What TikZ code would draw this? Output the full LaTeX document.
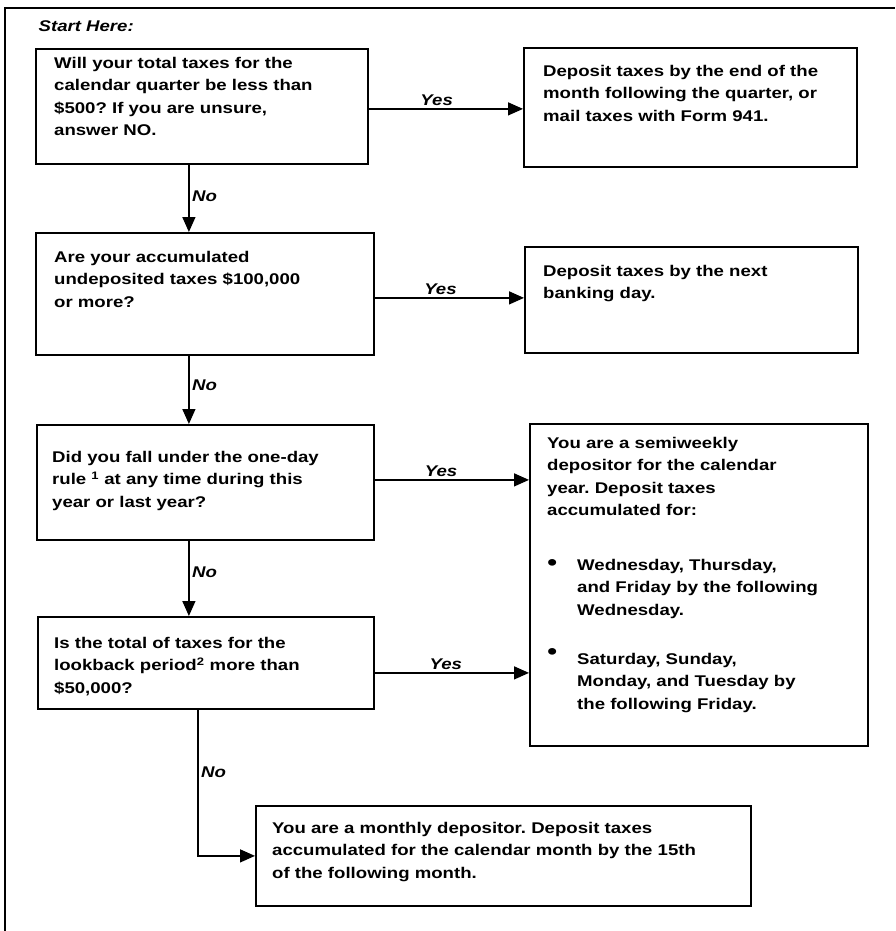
\documentclass[tikz,border=0pt]{standalone}
\usepackage{fontspec}
\setmainfont[FakeStretch=1.2]{Liberation Sans}
\usetikzlibrary{positioning,calc,arrows.meta}
\frenchspacing

\tikzset{
  box/.style={draw, line width=1.8pt, anchor=north west, inner sep=0pt},
  txt/.style={anchor=north west, align=left, inner sep=0pt, font=\bfseries\fontsize{15.5}{22.5}\selectfont},
  ans/.style={font=\bfseries\itshape\fontsize{15.5}{17}\selectfont, inner sep=2.5pt},
  link/.style={line width=1.4pt, -{Triangle[length=15pt,width=13pt]}},
}
\newcommand{\puce}{\scalebox{1.5}{\textbullet}}

\begin{document}
\begin{tikzpicture}[x=1pt, y=-1pt]
	\useasboundingbox (0,0) rectangle (895,931);
	% Cadre
	\draw[line width=1.4pt] (5,931) |- (895,8);
	\node[ans, anchor=west] (start) at (36,26) {Start Here:};
	
	% Questions
	\node[box, minimum width=332pt, minimum height=115pt] (q1) at (35,48) {};
	\node[txt] (q1t) at (54,57) {Will your total taxes for the\\calendar quarter be less than\\\$500? If you are unsure,\\answer NO.};
	
	\node[box, minimum width=338pt, minimum height=122pt] (q2) at (35,232) {};
	\node[txt] (q2t) at (54,251) {Are your accumulated\\undeposited taxes \$100,000\\or more?};
	
	\node[box, minimum width=337pt, minimum height=115pt] (q3) at (36,424) {};
	\node[txt] (q3t) at (52,451) {Did you fall under the one-day\\rule \textsuperscript{1} at any time during this\\year or last year?};
	
	\node[box, minimum width=336pt, minimum height=92pt] (q4) at (37,616) {};
	\node[txt] (q4t) at (54,637) {Is the total of taxes for the\\lookback period\textsuperscript{2} more than\\\$50,000?};
	
	% Reponses
	\node[box, minimum width=333pt, minimum height=119pt] (a1) at (523,47) {};
	\node[txt] (a1t) at (543,65) {Deposit taxes by the end of the\\month following the quarter, or\\mail taxes with Form 941.};
	
	\node[box, minimum width=333pt, minimum height=106pt] (a2) at (524,246) {};
	\node[txt] (a2t) at (543,265) {Deposit taxes by the next\\banking day.};
	
	\node[box, minimum width=338pt, minimum height=322pt] (a3) at (529,423) {};
	\node[txt] (a3t) at (547,437) {You are a semiweekly\\depositor for the calendar\\year. Deposit taxes\\accumulated for:};
	\node[txt] (a3b1) at (577,559) {\llap{\puce\hspace{20pt}}Wednesday, Thursday,\\and Friday by the following\\Wednesday.};
	\node[txt] (a3b2) at (577,648) {\llap{\raisebox{5pt}{\puce}\hspace{20pt}}Saturday, Sunday,\\Monday, and Tuesday by\\the following Friday.};
	
	\node[box, minimum width=495pt, minimum height=100pt] (a4) at (255,805) {};
	\node[txt] (a4t) at (272,822) {You are a monthly depositor. Deposit taxes\\accumulated for the calendar month by the 15th\\of the following month.};
	
	% Fleches Yes
	\draw[link] ([yshift=-2.5pt]q1.east) -- node[ans, above, pos=0.44] (y1) {Yes} ([yshift=-2.5pt]q1.east -| a1.west);
	\draw[link] ([yshift=-4pt]q2.east) -- node[ans, above, pos=0.44] (y2) {Yes} ([yshift=-4pt]q2.east -| a2.west);
	\draw[link] ([yshift=2.5pt]q3.east) -- node[ans, above, pos=0.43] (y3) {Yes} ([yshift=2.5pt]q3.east -| a3.west);
	\draw[link] ([yshift=-10pt]q4.east) -- node[ans, above, pos=0.46] (y4) {Yes} ([yshift=-10pt]q4.east -| a3.west);
	
	% Fleches No
	\draw[link] ([xshift=-13pt]q1.south) -- node[ans, right, pos=0.47] (n1) {No} ([xshift=-13pt]q1.south |- q2.north);
	\draw[link] ([xshift=-16pt]q2.south) -- node[ans, right, pos=0.43] (n2) {No} ([xshift=-16pt]q2.south |- q3.north);
	\draw[link] ([xshift=-16.5pt]q3.south) -- node[ans, right, pos=0.42] (n3) {No} ([xshift=-16.5pt]q3.south |- q4.north);
	\draw[link] ([xshift=-8pt]q4.south) |- node[ans, right, pos=0.215] (n4) {No} (a4.west);
\end{tikzpicture}
\end{document}
